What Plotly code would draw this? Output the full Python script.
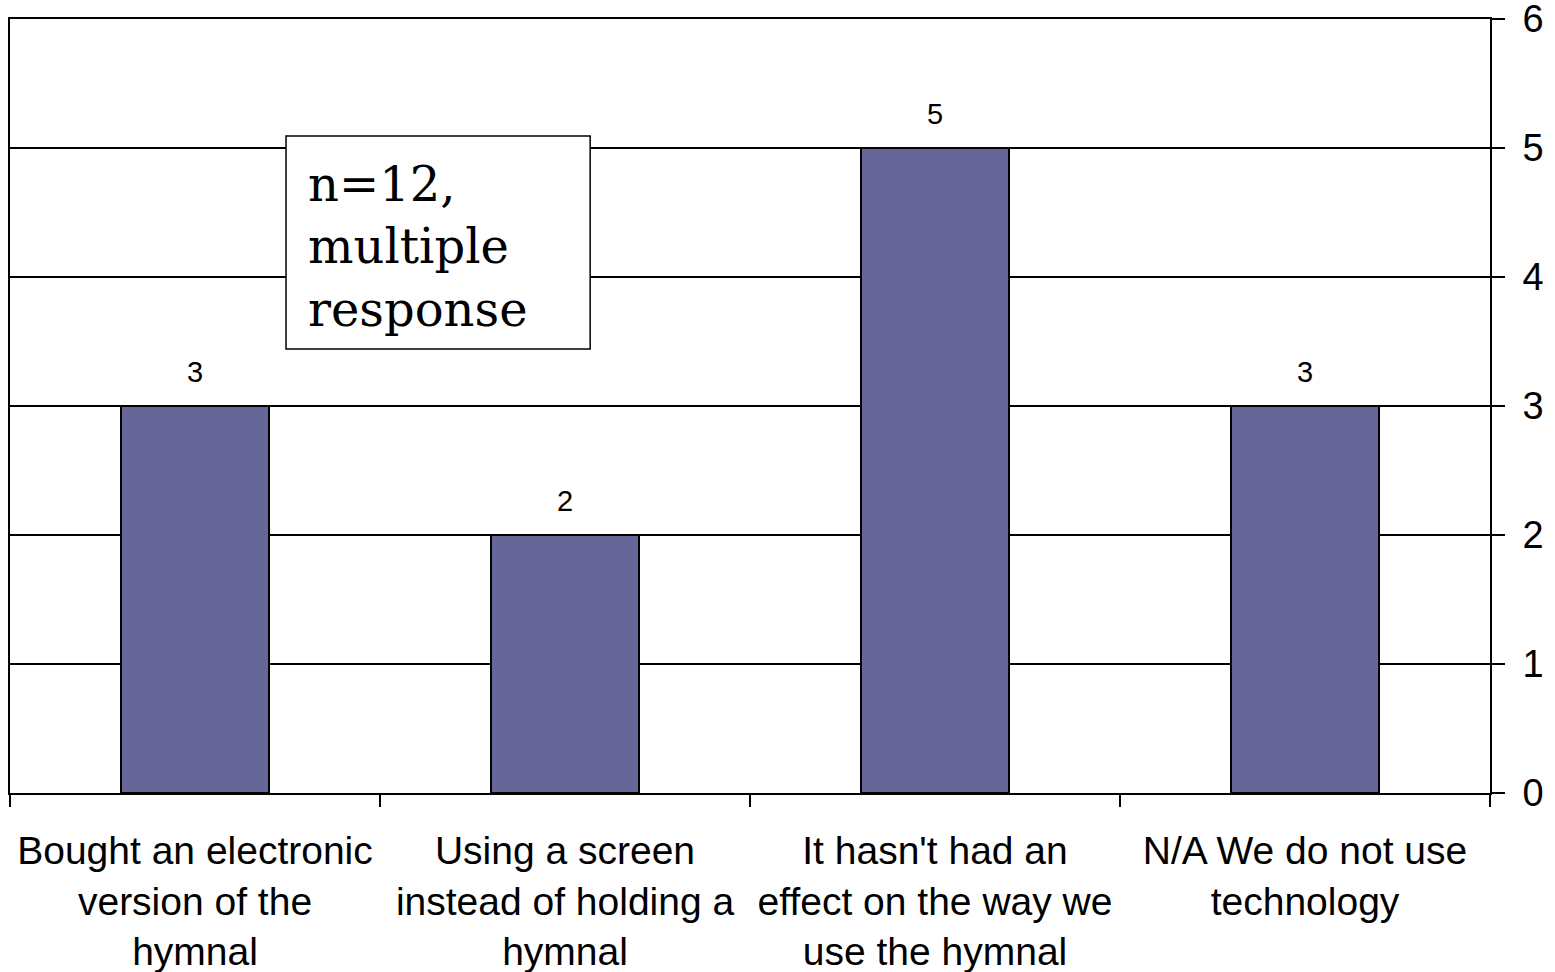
import plotly.graph_objects as go

categories = [
    "Bought an electronic<br>version of the<br>hymnal",
    "Using a screen<br>instead of holding a<br>hymnal",
    "It hasn't had an<br>effect on the way we<br>use the hymnal",
    "N/A We do not use<br>technology",
]
values = [3, 2, 5, 3]
y_ticks = [0, 1, 2, 3, 4, 5, 6]
note_text = "n=12,<br>multiple<br>response"

fig = go.Figure()
fig.add_trace(go.Bar(
    x=categories,
    y=values,
    marker=dict(color="#666699", line=dict(color="black", width=2)),
    width=0.4,
    hoverinfo="skip",
))

for c, v in zip(categories, values):
    fig.add_annotation(
        x=c, y=v, text=str(v), showarrow=False,
        yanchor="bottom", yshift=16,
        font=dict(family="Liberation Sans, Arial, sans-serif", size=29, color="black"),
    )

# note box (frame) and its text
fig.add_shape(
    type="rect", xref="x", yref="y",
    x0=0.246, x1=1.068, y0=3.442, y1=5.093,
    line=dict(color="black", width=1.5), fillcolor="white", layer="above",
)
fig.add_annotation(
    xref="x", yref="y", x=0.30, y=4.233, xanchor="left", yanchor="middle",
    text=note_text, showarrow=False, align="left",
    font=dict(family="DejaVu Serif, serif", size=48, color="black"),
)

fig.update_layout(
    width=1555, height=972,
    margin=dict(l=10, r=65, t=19, b=179, autoexpand=False),
    paper_bgcolor="white", plot_bgcolor="white",
    showlegend=False,
    bargap=0.6,
    font=dict(family="Liberation Sans, Arial, sans-serif", size=39, color="black"),
    xaxis=dict(
        type="category",
        range=[-0.5, 3.5],
        automargin=False,
        showline=True, linecolor="black", linewidth=2, mirror=True,
        ticks="outside", tickson="boundaries", ticklen=12, tickwidth=2, tickcolor="black",
        showgrid=False,
        tickfont=dict(size=39),
        ticklabelstandoff=22,
        ticklabeloverflow="allow",
    ),
    yaxis=dict(
        side="right",
        range=[0, 6],
        tickvals=y_ticks,
        automargin=False,
        showline=True, linecolor="black", linewidth=2, mirror=True,
        ticks="outside", ticklen=13, tickwidth=2, tickcolor="black",
        showgrid=True, gridcolor="black", gridwidth=2,
        zeroline=False,
        tickfont=dict(size=38),
        ticklabelstandoff=10,
        ticklabeloverflow="allow",
    ),
)

fig.write_html(
    "out.html",
    config={"displayModeBar": False},
    post_script="document.body.style.margin='0';document.body.style.overflow='hidden';",
)
